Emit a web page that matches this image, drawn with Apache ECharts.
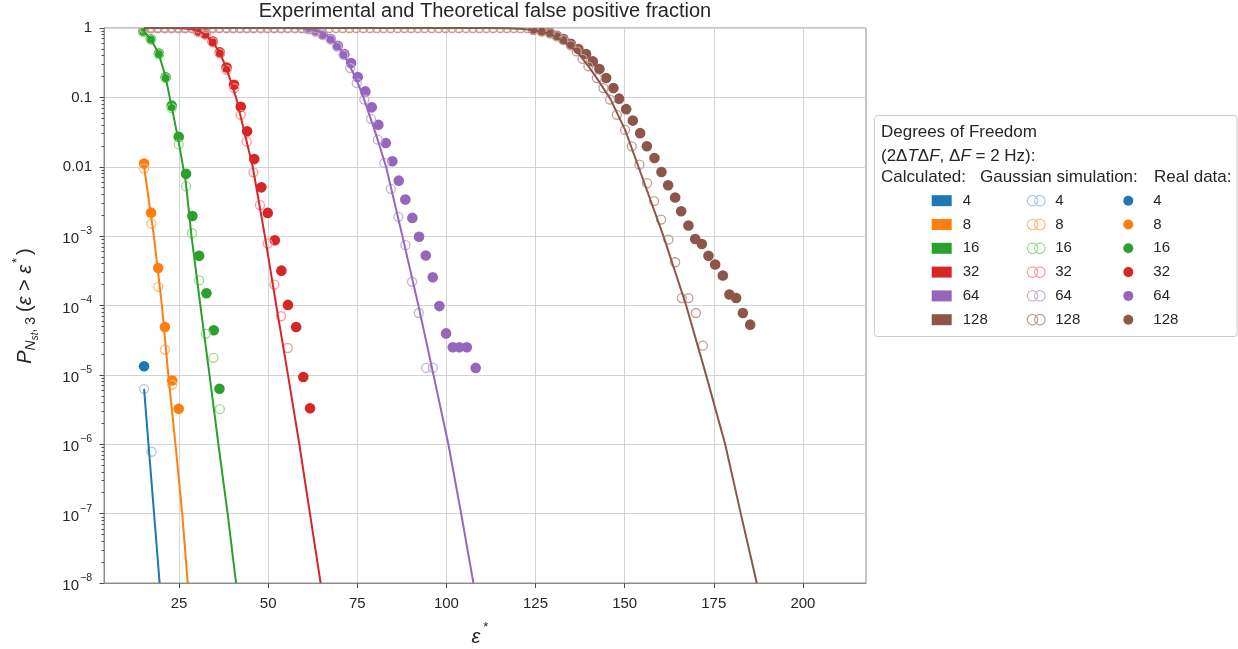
<!DOCTYPE html>
<html>
<head>
<meta charset="utf-8">
<script src="https://cdn.jsdelivr.net/npm/echarts@6.0.0/dist/echarts.min.js"></script>
<style>
html,body{margin:0;padding:0;background:#ffffff;}
#chart{width:1238px;height:649px;}
</style>
</head>
<body>
<div id="chart"></div>
<script>
// ---------------- data ----------------
const dofLabels = ['4', '8', '16', '32', '64', '128'];
const xTicks = [25, 50, 75, 100, 125, 150, 175, 200];
const yTickExp = [0, -1, -2, -3, -4, -5, -6, -7, -8];
const yTickBase = ['1', '0.1', '0.01', '10', '10', '10', '10', '10', '10'];
const yTickSup = ['', '', '', '−3', '−4', '−5', '−6', '−7', '−8'];
const minorMult = [2, 3, 4, 5, 6, 7, 8, 9];

// epsilon* positions of simulation markers that sit at P = 1 (top edge)
const satX = [15.2, 17.1, 19.0, 21.0, 22.9, 24.8, 26.7, 28.6, 30.6, 32.5, 34.4, 36.3, 38.3, 40.2,
  42.1, 44.0, 45.9, 47.9, 49.8, 51.7, 53.6, 55.5, 57.5, 59.4, 61.3, 63.2, 65.1, 67.1, 69.0, 70.9,
  72.8, 74.7, 76.7, 78.6, 80.5, 82.4, 84.3, 86.3, 88.2, 90.1, 92.0, 93.9, 95.9, 97.8, 99.7, 101.6,
  103.5, 105.5, 107.4, 109.3, 111.2, 113.1, 115.1, 117.0, 118.9, 120.8, 122.7];

// Calculated curves
const calc4 = [[15.2, 6.3e-6], [16.6, 7.9e-7], [18.1, 8.7e-8], [19.56, 1e-8]];
const calc8 = [[15.2, 1.0e-2], [17.95, 1e-3], [20.2, 1e-4], [22.0, 1e-5], [24.0, 1e-6], [25.9, 1e-7], [27.45, 1e-8]];
const calc16 = [[15.0, 0.9], [17.1, 0.69], [19.3, 0.43], [21.2, 0.2], [22.9, 0.075], [24.9, 0.023], [26.9, 6e-3],
  [28.5, 1e-3], [31.0, 1e-4], [33.55, 1e-5], [36.05, 1e-6], [38.64, 1e-7], [41.0, 1e-8]];
const calc32 = [[15.2, 1], [22, 1], [26, 0.99], [28.5, 0.96], [30.5, 0.9], [32.4, 0.8], [34.46, 0.63], [36.45, 0.44],
  [38.34, 0.26], [41.0, 0.1], [45.68, 0.01], [49.09, 1e-3], [52.28, 1e-4], [55.56, 1e-5], [58.75, 1e-6],
  [61.73, 1e-7], [64.72, 1e-8]];
const calc64 = [[15.2, 1], [52, 1], [56, 0.998], [59.84, 0.985], [63.33, 0.93], [65.32, 0.85], [67.6, 0.71],
  [69.5, 0.56], [71.3, 0.41], [73.18, 0.265], [74.97, 0.17], [76.72, 0.1], [80.05, 0.0316], [83.08, 0.01],
  [87.66, 1e-3], [92.15, 1e-4], [96.38, 1e-5], [100.56, 1e-6], [104.14, 1e-7], [107.58, 1e-8]];
const calc128 = [[15.2, 1], [105, 1], [112, 0.998], [117.58, 0.99], [121.56, 0.97], [124.44, 0.93], [127.46, 0.87],
  [130.49, 0.76], [133.51, 0.61], [136.6, 0.46], [139.87, 0.28], [142.17, 0.19], [144.06, 0.135], [146.0, 0.095],
  [150.13, 0.034], [153.87, 0.01], [160.89, 1e-3], [167.26, 1e-4], [172.83, 1e-5], [178.2, 1e-6],
  [182.58, 1e-7], [187.06, 1e-8]];

// Gaussian simulation
const sim4 = [[15.2, 6.3e-6], [17.3, 7.8e-7]];
const sim8 = [[15.2, 9.4e-3], [17.25, 1.51e-3], [19.17, 1.86e-4], [21.05, 2.32e-5], [23.1, 7.2e-6]];
const sim16 = [[15.0, 0.88], [17.11, 0.68], [19.36, 0.42], [21.25, 0.19], [22.94, 0.07], [24.92, 0.021],
  [26.97, 5.2e-3], [28.6, 1.1e-3], [30.64, 2.3e-4], [32.5, 3.9e-5], [34.65, 1.76e-5], [36.45, 3.2e-6]];
const sim32Tail = [[30.48, 0.88], [32.37, 0.8], [34.46, 0.62], [36.45, 0.43], [38.34, 0.25], [40.52, 0.136],
  [42.31, 0.056], [43.99, 0.023], [45.85, 8.3e-3], [47.7, 2.8e-3], [49.89, 7.8e-4], [51.74, 2.0e-4],
  [53.62, 7.0e-5], [55.5, 2.44e-5]];
const sim64Tail = [[61.24, 0.97], [63.33, 0.89], [65.32, 0.79], [67.57, 0.68], [69.3, 0.54], [71.1, 0.41],
  [72.98, 0.265], [74.85, 0.161], [76.99, 0.093], [78.87, 0.049], [80.75, 0.0246], [82.6, 0.01135],
  [84.4, 4.8e-3], [86.53, 1.9e-3], [88.49, 7.4e-4], [90.37, 2.2e-4], [92.26, 7.8e-5], [94.31, 1.26e-5],
  [96.18, 1.26e-5]];
const sim128Tail = [[124.42, 0.94], [126.74, 0.89], [129.13, 0.84], [131.02, 0.76], [132.81, 0.67], [134.92, 0.56],
  [136.6, 0.46], [138.19, 0.36], [139.83, 0.28], [142.2, 0.19], [144.05, 0.136], [145.93, 0.093], [147.8, 0.056],
  [150.13, 0.034], [152.0, 0.0197], [154.13, 0.0107], [156.29, 5.8e-3], [158.26, 3.2e-3], [160.22, 1.73e-3],
  [162.27, 8.9e-4], [164.16, 4.2e-4], [166.04, 1.28e-4], [167.9, 1.28e-4], [169.98, 7.8e-5], [171.94, 2.64e-5]];
const sim32 = satX.slice(0, 8).map(x => [x, 1]).concat(sim32Tail);
const sim64 = satX.slice(0, 24).map(x => [x, 1]).concat(sim64Tail);
const sim128 = satX.map(x => [x, 1]).concat(sim128Tail);

// Real data
const real4 = [[15.2, 1.33e-5]];
const real8 = [[15.2, 1.11e-2], [17.16, 2.18e-3], [19.17, 3.48e-4], [21.05, 4.9e-5], [23.1, 8.3e-6], [24.92, 3.24e-6]];
const real16 = [[15.0, 0.89], [17.11, 0.69], [19.36, 0.43], [21.25, 0.195], [22.94, 0.076], [24.92, 0.027],
  [26.97, 7.9e-3], [28.75, 1.95e-3], [30.64, 5.2e-4], [32.69, 1.5e-4], [34.75, 4.4e-5], [36.35, 6.3e-6]];
const real32 = [[30.48, 0.89], [32.37, 0.82], [34.46, 0.64], [36.45, 0.445], [38.34, 0.27], [40.43, 0.152],
  [42.32, 0.073], [44.11, 0.0324], [46.1, 0.0129], [48.1, 5.05e-3], [49.89, 2.16e-3], [51.88, 8.7e-4],
  [53.72, 3.18e-4], [55.56, 1.02e-4], [57.85, 4.9e-5], [59.87, 9.3e-6], [61.75, 3.3e-6]];
const real64 = [[61.24, 0.97], [63.33, 0.9], [65.32, 0.80], [67.57, 0.695], [69.53, 0.556], [71.38, 0.42],
  [73.26, 0.313], [75.14, 0.197], [77.27, 0.122], [79.07, 0.0718], [80.92, 0.0404], [83.0, 0.022], [84.85, 0.012],
  [86.64, 6.3e-3], [88.49, 3.36e-3], [90.46, 1.83e-3], [92.34, 9.8e-4], [94.22, 5.25e-4], [96.18, 2.55e-4],
  [98.03, 9.8e-5], [99.91, 3.96e-5], [101.79, 2.5e-5], [103.64, 2.5e-5], [105.73, 2.5e-5], [108.22, 1.26e-5]];
const real128 = [[124.42, 0.955], [126.74, 0.91], [129.1, 0.847], [130.97, 0.774], [132.83, 0.694], [134.9, 0.594],
  [137.03, 0.498], [139.19, 0.422], [141.08, 0.33], [142.93, 0.257], [144.81, 0.19], [146.85, 0.136],
  [148.44, 0.0958], [150.43, 0.0677], [152.29, 0.0463], [154.35, 0.0305], [156.23, 0.0197], [158.36, 0.0134],
  [160.33, 8.4e-3], [162.2, 5.4e-3], [164.17, 3.6e-3], [165.85, 2.28e-3], [167.9, 1.42e-3], [169.79, 9.1e-4],
  [171.66, 7.7e-4], [173.51, 5.2e-4], [175.39, 3.9e-4], [177.55, 2.7e-4], [179.4, 1.44e-4], [181.28, 1.28e-4],
  [183.16, 7.8e-5], [185.22, 5.3e-5]];

// ---------------- styles ----------------
const colors = ['#1f77b4', '#ff7f0e', '#2ca02c', '#d62728', '#9467bd', '#8c564b'];
const lightColors = ['#aec7e8', '#ffbb78', '#98df8a', '#ff9896', '#c5b0d5', '#c49c94'];
const FONT = '"Liberation Sans", Arial, Helvetica, sans-serif';
const TXT = '#262626';

const calcData = [calc4, calc8, calc16, calc32, calc64, calc128];
const simData = [sim4, sim8, sim16, sim32, sim64, sim128];
const realData = [real4, real8, real16, real32, real64, real128];

const minorTicksLog = [];
yTickExp.slice(1).forEach(e => minorMult.forEach(m => minorTicksLog.push(e + Math.log10(m))));

// markers drawn through the axes' own scales (api.coord), clipped to the plot area
function dotRenderer(i) {
  return function (params, api) {
    const p = api.coord([api.value(0), api.value(1)]);
    return { type: 'circle', shape: { cx: p[0], cy: p[1], r: 5.3 }, style: { fill: colors[i] } };
  };
}
function ringRenderer(i) {
  return function (params, api) {
    const p = api.coord([api.value(0), api.value(1)]);
    return { type: 'circle', shape: { cx: p[0], cy: p[1], r: 4.5 },
      style: { fill: 'none', stroke: lightColors[i], lineWidth: 1.3 } };
  };
}

const series = [];
dofLabels.forEach((d, i) => {
  series.push({
    name: 'real ' + d, type: 'custom', data: realData[i], encode: { x: 0, y: 1 },
    renderItem: dotRenderer(i), itemStyle: { color: colors[i] }, z: 2, clip: true, silent: true
  });
});
dofLabels.forEach((d, i) => {
  series.push({
    name: 'sim ' + d, type: 'custom', data: simData[i], encode: { x: 0, y: 1 },
    renderItem: ringRenderer(i),
    itemStyle: { color: 'rgba(255,255,255,0)', borderColor: lightColors[i], borderWidth: 1.3 },
    z: 3, clip: true, silent: true
  });
});
dofLabels.forEach((d, i) => {
  series.push({
    name: 'calc ' + d, type: 'line', data: calcData[i], showSymbol: false, symbol: 'none',
    lineStyle: { color: colors[i], width: 2 }, itemStyle: { color: colors[i] },
    z: 4, clip: true, silent: true
  });
});

const legendText = { fontFamily: FONT, fontSize: 15, color: TXT, lineHeight: 16 };
const nameOnly = n => n.split(' ')[1];

const option = {
  animation: false,
  backgroundColor: '#ffffff',
  grid: { left: 104, top: 28, width: 762, height: 555, show: true, borderColor: '#8c8c8c', borderWidth: 1,
    backgroundColor: 'rgba(0,0,0,0)', containLabel: false, outerBoundsMode: 'none' },
  xAxis: {
    type: 'value', min: 3.96, max: 217.7,
    axisLine: { show: true, onZero: false, lineStyle: { color: '#8c8c8c', width: 1 } },
    axisTick: { show: true, length: 5, lineStyle: { color: '#4d4d4d' }, customValues: xTicks },
    axisLabel: { show: true, margin: 13, fontFamily: FONT, fontSize: 15, color: TXT, customValues: xTicks,
      formatter: v => String(v) },
    splitLine: { show: true, lineStyle: { color: '#d4d4d4', width: 1 } }
  },
  yAxis: [{
    type: 'log', logBase: 10, min: 1e-8, max: 1, splitNumber: 8,
    axisLine: { show: true, lineStyle: { color: '#8c8c8c', width: 1 } },
    axisTick: { show: true, length: 4.5, lineStyle: { color: '#4d4d4d' } },
    axisLabel: {
      show: true, margin: 12, fontFamily: FONT, fontSize: 15, color: TXT,
      formatter: function (v) {
        const e = Math.round(Math.log10(v));
        const k = yTickExp.indexOf(e);
        if (k < 0) return '';
        if (!yTickSup[k]) return '{n|' + yTickBase[k] + '}';
        return '{b|' + yTickBase[k] + '}{s|' + yTickSup[k] + '}';
      },
      rich: {
        n: { fontFamily: FONT, fontSize: 15, color: TXT, lineHeight: 15 },
        b: { fontFamily: FONT, fontSize: 15, color: TXT, lineHeight: 15, padding: [6, 0, 0, 0] },
        s: { fontFamily: FONT, fontSize: 10.5, color: TXT, lineHeight: 11, padding: [0, 0, 10, 1] }
      }
    },
    splitLine: { show: true, lineStyle: { color: '#d4d4d4', width: 1 } }
  }, {
    type: 'value', min: -8, max: 0, position: 'left', offset: 0,
    axisLine: { show: false }, axisLabel: { show: false }, splitLine: { show: false },
    axisTick: { show: true, length: 2.5, lineStyle: { color: '#4d4d4d' }, customValues: minorTicksLog }
  }],
  legend: [{
    data: dofLabels.map(d => 'calc ' + d), orient: 'vertical', left: 931.7, top: 192.7, padding: 0,
    itemWidth: 20, itemHeight: 11, itemGap: 7.8, icon: 'rect', itemStyle: { borderWidth: 0 },
    formatter: nameOnly, textStyle: Object.assign({ padding: [0, 0, 0, 6] }, legendText), selectedMode: false
  }, {
    data: dofLabels.map(d => 'sim ' + d), orient: 'vertical', left: 1026.7, top: 192.7, padding: 0,
    itemWidth: 18, itemHeight: 10.5, itemGap: 7.8,
    icon: 'path://M0,5A5,5,0,1,1,10,5A5,5,0,1,1,0,5ZM7,5A5,5,0,1,1,17,5A5,5,0,1,1,7,5Z',
    itemStyle: { borderWidth: 1.2 },
    formatter: nameOnly, textStyle: Object.assign({ padding: [0, 0, 0, 5] }, legendText), selectedMode: false
  }, {
    data: dofLabels.map(d => 'real ' + d), orient: 'vertical', left: 1123.3, top: 192.7, padding: 0,
    itemWidth: 10, itemHeight: 10, itemGap: 7.8, icon: 'circle', itemStyle: { borderWidth: 0 },
    formatter: nameOnly, textStyle: Object.assign({ padding: [0, 0, 0, 15] }, legendText), selectedMode: false
  }],
  graphic: [
    { type: 'rect', z: -1, silent: true, shape: { x: 874.5, y: 115.5, width: 362.5, height: 221, r: 3 },
      style: { fill: '#ffffff', stroke: '#cccccc', lineWidth: 1 } },
    { type: 'text', silent: true, x: 485, y: 11,
      style: { text: 'Experimental and Theoretical false positive fraction', fontFamily: FONT, fontSize: 20,
        fill: TXT, align: 'center', verticalAlign: 'middle' } },
    { type: 'text', silent: true, x: 881, y: 132.7,
      style: { text: 'Degrees of Freedom', fontFamily: FONT, fontSize: 17, fill: TXT, align: 'left', verticalAlign: 'middle' } },
    { type: 'text', silent: true, x: 881, y: 156.7,
      style: { text: '(2Δ{i|T}Δ{i|F}, Δ{i|F} = 2 Hz):', fontFamily: FONT, fontSize: 17, fill: TXT,
        align: 'left', verticalAlign: 'middle',
        rich: { i: { fontFamily: FONT, fontSize: 17, fontStyle: 'italic' } } } },
    { type: 'text', silent: true, x: 881, y: 177.7,
      style: { text: 'Calculated:', fontFamily: FONT, fontSize: 17, fill: TXT, align: 'left', verticalAlign: 'middle' } },
    { type: 'text', silent: true, x: 980, y: 177.7,
      style: { text: 'Gaussian simulation:', fontFamily: FONT, fontSize: 17, fill: TXT, align: 'left', verticalAlign: 'middle' } },
    { type: 'text', silent: true, x: 1154, y: 177.7,
      style: { text: 'Real data:', fontFamily: FONT, fontSize: 17, fill: TXT, align: 'left', verticalAlign: 'middle' } },
    { type: 'text', silent: true, x: 480, y: 634,
      style: { text: '{i|ε}{p|*}', fontFamily: FONT, fontSize: 20, fill: TXT, align: 'center', verticalAlign: 'middle',
        rich: {
          i: { fontFamily: FONT, fontSize: 20, fontStyle: 'italic', lineHeight: 20, padding: [6, 0, 0, 0] },
          p: { fontFamily: FONT, fontSize: 13, lineHeight: 13, padding: [0, 0, 13, 3] }
        } } },
    { type: 'text', silent: true, x: 26, y: 306, rotation: Math.PI / 2,
      style: { text: '{bi|P}{si|N}{ssi|st}{s|, 3}{b|(}{bi|ε}{b| > }{bi|ε}{p|*}{b|)}', fontFamily: FONT, fontSize: 20,
        fill: TXT, align: 'center', verticalAlign: 'middle',
        rich: {
          bi: { fontFamily: FONT, fontSize: 20, fontStyle: 'italic', lineHeight: 20, padding: [4, 0, 6, 0] },
          b: { fontFamily: FONT, fontSize: 20, lineHeight: 20, padding: [4, 0, 6, 0] },
          si: { fontFamily: FONT, fontSize: 14, fontStyle: 'italic', lineHeight: 14, padding: [13, 0, 3, 0] },
          s: { fontFamily: FONT, fontSize: 14, lineHeight: 14, padding: [13, 5, 3, 0] },
          ssi: { fontFamily: FONT, fontSize: 10, fontStyle: 'italic', lineHeight: 10, padding: [19, 0, 1, 0] },
          p: { fontFamily: FONT, fontSize: 13, lineHeight: 13, padding: [0, 3, 17, 2] }
        } } }
  ],
  series: series
};

const chart = echarts.init(document.getElementById('chart'), null, { renderer: 'canvas' });
chart.setOption(option);
</script>
</body>
</html>
